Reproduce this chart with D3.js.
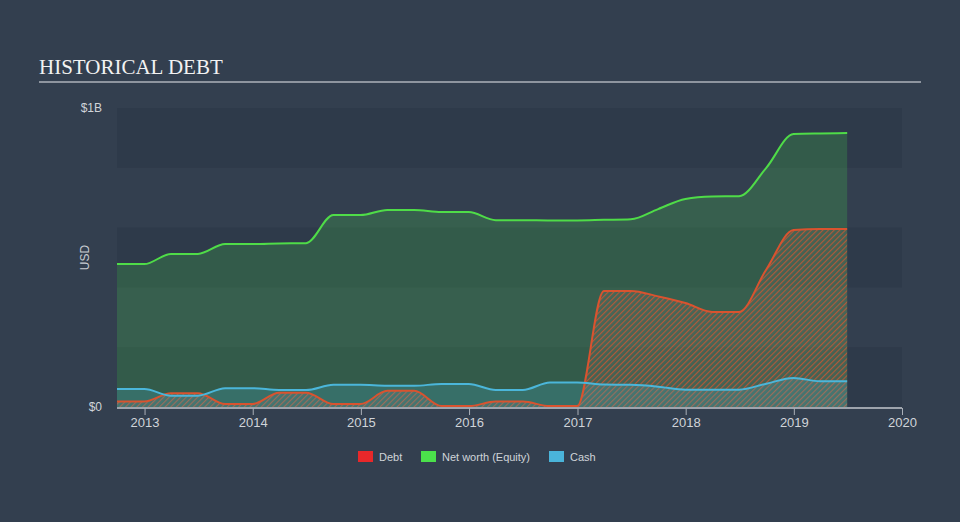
<!DOCTYPE html>
<html>
<head>
<meta charset="utf-8">
<script src="https://cdn.jsdelivr.net/npm/d3@7"></script>
<style>
  html, body { margin: 0; padding: 0; background: #333f4f; }
  svg { display: block; }
</style>
</head>
<body>
<svg id="chart" width="960" height="522"></svg>
<script>
// ---- Data (quarter-end dates, values in USD) ----
const dates = [
  "2012-09-30","2012-12-31","2013-03-31","2013-06-30","2013-09-30","2013-12-31",
  "2014-03-31","2014-06-30","2014-09-30","2014-12-31","2015-03-31","2015-06-30",
  "2015-09-30","2015-12-31","2016-03-31","2016-06-30","2016-09-30","2016-12-31",
  "2017-03-31","2017-06-30","2017-09-30","2017-12-31","2018-03-31","2018-06-30",
  "2018-09-30","2018-12-31","2019-03-31","2019-06-30"
];
const debt = [
  0.018,0.018,0.046,0.046,0.010,0.010,
  0.048,0.048,0.010,0.010,0.054,0.054,
  0.003,0.003,0.018,0.018,0.003,0.003,
  0.388,0.388,0.370,0.348,0.318,0.318,
  0.460,0.592,0.595,0.595
].map(v => v * 1e9);
const equity = [
  0.478,0.478,0.512,0.512,0.545,0.545,
  0.547,0.548,0.642,0.642,0.659,0.659,
  0.652,0.652,0.625,0.625,0.624,0.624,
  0.626,0.628,0.662,0.696,0.704,0.705,
  0.800,0.913,0.915,0.916
].map(v => v * 1e9);
const cash = [
  0.060,0.060,0.038,0.038,0.063,0.063,
  0.057,0.057,0.074,0.074,0.071,0.071,
  0.077,0.077,0.057,0.057,0.082,0.082,
  0.075,0.074,0.068,0.058,0.058,0.058,
  0.078,0.097,0.086,0.086
].map(v => v * 1e9);
const yTickValues = [0, 1e9];
const yTickLabels = ["$0", "$1B"];
const xTickYears = [2013,2014,2015,2016,2017,2018,2019,2020];
const legendItems = ["Debt", "Net worth (Equity)", "Cash"];

// ---- Setup ----
const svg = d3.select("#chart");
const W = 960, H = 522;
const pL = 117, pR = 902, pT = 108, pB = 407;
const parse = d3.timeParse("%Y-%m-%d");
const tDates = dates.map(parse);
const rows = tDates.map((d, i) => ({ date: d, debt: debt[i], equity: equity[i], cash: cash[i] }));

const x = d3.scaleTime()
  .domain([new Date(2012, 8, 30), new Date(2020, 0, 1)])
  .range([pL, pR]);
const y = d3.scaleLinear().domain([0, 1e9]).range([pB, pT]);

// Background
svg.append("rect").attr("width", W).attr("height", H).attr("fill", "#333f4f");

// Title
svg.append("text")
  .attr("x", 39).attr("y", 74)
  .attr("font-family", "'Liberation Serif', 'Times New Roman', serif")
  .attr("font-size", 21)
  .attr("fill", "#f2f2f2")
  .text("HISTORICAL DEBT");
svg.append("line")
  .attr("x1", 39).attr("x2", 921).attr("y1", 82).attr("y2", 82)
  .attr("stroke", "#aeb3ba").attr("stroke-width", 1.5);

// Bands (alternate every 0.2B)
const bandStep = 0.2e9;
d3.range(0, 5).forEach(i => {
  if (i % 2 === 0) {
    svg.append("rect")
      .attr("x", pL).attr("width", pR - pL)
      .attr("y", y((i + 1) * bandStep)).attr("height", y(i * bandStep) - y((i + 1) * bandStep))
      .attr("fill", "#2e3a4a");
  }
});

// Hatch pattern
const defs = svg.append("defs");
const pat = defs.append("pattern")
  .attr("id", "hatch").attr("patternUnits", "userSpaceOnUse")
  .attr("width", 4).attr("height", 4)
  .attr("patternTransform", "rotate(45)");
pat.append("rect").attr("width", 4).attr("height", 4).attr("fill", "rgba(120,120,110,0.25)");
pat.append("line").attr("x1", 0).attr("y1", 0).attr("x2", 0).attr("y2", 4)
  .attr("stroke", "#d8542f").attr("stroke-width", 2.2).attr("stroke-opacity", 0.75);

const curve = d3.curveMonotoneX;
const areaOf = key => d3.area().x(d => x(d.date)).y0(y(0)).y1(d => y(d[key])).curve(curve);
const lineOf = key => d3.line().x(d => x(d.date)).y(d => y(d[key])).curve(curve);

// Areas
svg.append("path").datum(rows).attr("d", areaOf("equity"))
  .attr("fill", "#4be04b").attr("fill-opacity", 0.2);
svg.append("path").datum(rows).attr("d", areaOf("debt"))
  .attr("fill", "url(#hatch)");
svg.append("path").datum(rows).attr("d", areaOf("cash"))
  .attr("fill", "#4ab8d8").attr("fill-opacity", 0.22);

// Lines
svg.append("path").datum(rows).attr("d", lineOf("equity"))
  .attr("fill", "none").attr("stroke", "#4fdc48").attr("stroke-width", 2);
svg.append("path").datum(rows).attr("d", lineOf("debt"))
  .attr("fill", "none").attr("stroke", "#d9532f").attr("stroke-width", 2);
svg.append("path").datum(rows).attr("d", lineOf("cash"))
  .attr("fill", "none").attr("stroke", "#4bb6da").attr("stroke-width", 2);

// X axis
const xAxis = d3.axisBottom(x)
  .tickValues(xTickYears.map(yr => new Date(yr, 0, 1)))
  .tickFormat(d3.timeFormat("%Y"))
  .tickSize(7).tickPadding(3);
const gx = svg.append("g").attr("transform", `translate(0,${pB + 1})`).call(xAxis);
gx.select(".domain").attr("stroke", "#c3c7cc").attr("stroke-width", 1.5).attr("d", `M${pL},0H${pR}`);
gx.selectAll(".tick line").attr("stroke", "#aab0b8");
gx.selectAll(".tick text")
  .attr("fill", "#d0d4d9")
  .attr("font-family", "'Liberation Sans', Arial, sans-serif")
  .attr("font-size", 13);

// Y labels
svg.selectAll(".ylab").data(yTickValues).enter().append("text")
  .attr("class", "ylab")
  .attr("x", 102).attr("y", d => y(d) + 4)
  .attr("text-anchor", "end")
  .attr("font-family", "'Liberation Sans', Arial, sans-serif")
  .attr("font-size", 12)
  .attr("fill", "#d0d4d9")
  .text((d, i) => yTickLabels[i]);
svg.append("text")
  .attr("transform", `translate(89,${(pT + pB) / 2}) rotate(-90)`)
  .attr("text-anchor", "middle")
  .attr("font-family", "'Liberation Sans', Arial, sans-serif")
  .attr("font-size", 12)
  .attr("fill", "#c8ccd2")
  .text("USD");

// Legend
const legendColors = ["#e8282a", "#4be04b", "#4ab4da"];
const legendX = [358, 421, 549];
legendItems.forEach((name, i) => {
  svg.append("rect").attr("x", legendX[i]).attr("y", 451).attr("width", 15).attr("height", 11)
    .attr("fill", legendColors[i]);
  svg.append("text").attr("x", legendX[i] + 21).attr("y", 460.5)
    .attr("font-family", "'Liberation Sans', Arial, sans-serif")
    .attr("font-size", 11)
    .attr("fill", "#d0d4d9")
    .text(name);
});
</script>
</body>
</html>
